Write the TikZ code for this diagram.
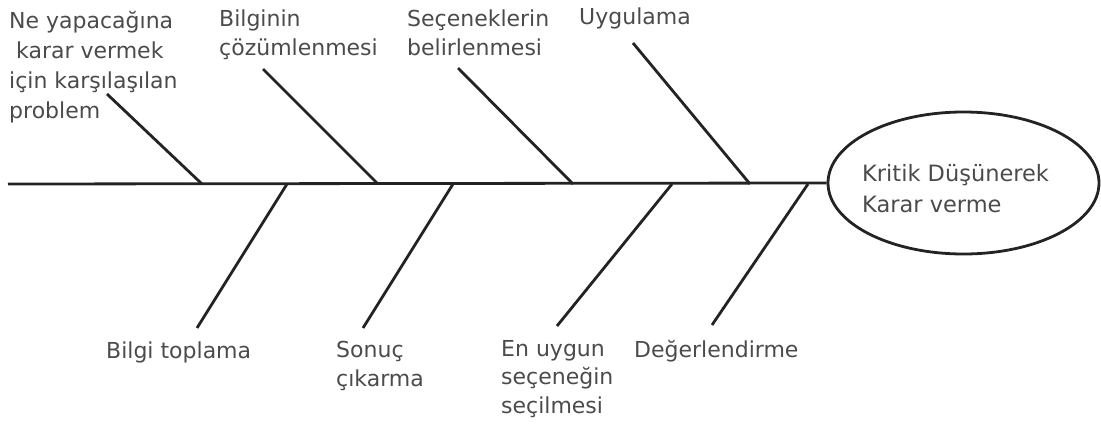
\documentclass[tikz,border=0pt]{standalone}
\usepackage{fontspec}
\setmainfont{DejaVu Sans}
\usetikzlibrary{shapes.geometric}
\definecolor{inkline}{RGB}{35,35,35}
\definecolor{inktext}{RGB}{75,75,75}
\begin{document}
\begin{tikzpicture}[x=1pt,y=-1pt,
  bone/.style={draw=inkline,line width=2.8pt},
  lbl/.style={anchor=base west,inner sep=0pt,align=left,text=inktext,font=\fontsize{22}{28.5}\selectfont},
  goalshape/.style={draw=inkline,line width=2.8pt,ellipse,minimum width=271pt,minimum height=142pt,inner sep=0pt}]
\useasboundingbox (0,0) rectangle (1101,432);
% labels (anchored at the baseline of their last line)
\node[lbl,font=\fontsize{22}{30}\selectfont] (problem) at (9,118) {Ne yapacağına\\\hspace*{7pt}karar vermek\\için karşılaşılan\\problem};
\node[lbl] (analiz) at (219,55) {Bilginin\\çözümlenmesi};
\node[lbl] (secenek) at (407,55) {Seçeneklerin\\belirlenmesi};
\node[lbl] (uygulama) at (579,24) {Uygulama};
\node[lbl] (bilgi) at (106,358) {Bilgi toplama};
\node[lbl] (sonuc) at (336,386) {Sonuç\\çıkarma};
\node[lbl] (enuygun) at (501,413) {En uygun\\seçeneğin\\seçilmesi};
\node[lbl] (deger) at (634,357) {Değerlendirme};
% goal
\node[goalshape] (goal) at (963.5,183) {};
\node[lbl,font=\fontsize{22.5}{31}\selectfont] (goaltext) at (862,212) {Kritik Düşünerek\\Karar verme};
% spine
\coordinate (tail) at (8,184);
\draw[bone] (tail) -- (goal.west);
% bone coordinates
\coordinate (u1a) at (107,94);  \coordinate (u1b) at (202,184);
\coordinate (u2a) at (263,69);  \coordinate (u2b) at (378,184);
\coordinate (u3a) at (458,68);  \coordinate (u3b) at (573,184);
\coordinate (u4a) at (633,43);  \coordinate (u4b) at (750,184);
\coordinate (l1a) at (197,328); \coordinate (l1b) at (287,184);
\coordinate (l2a) at (363,328); \coordinate (l2b) at (453,184);
\coordinate (l3a) at (557,326); \coordinate (l3b) at (672,184);
\coordinate (l4a) at (712,325); \coordinate (l4b) at (808,184);
\foreach \b in {u1,u2,u3,u4,l1,l2,l3,l4}{\draw[bone] (\b a) -- (\b b);}
\end{tikzpicture}
\end{document}
